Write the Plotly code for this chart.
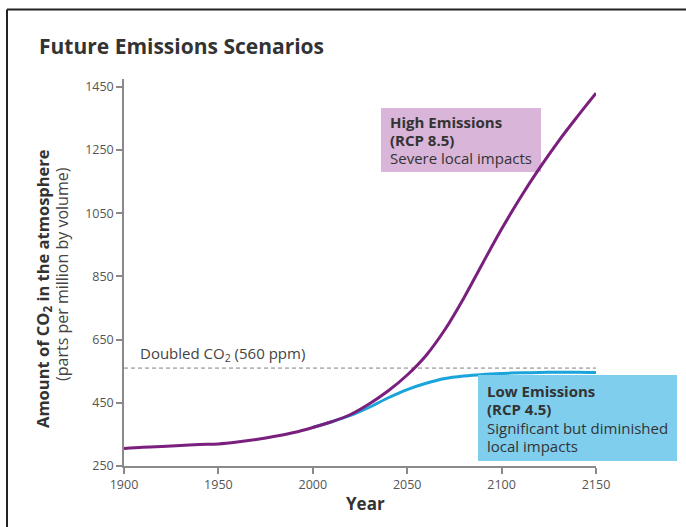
import plotly.graph_objects as go

# ---- data ----
years_high = [1900, 1910, 1920, 1930, 1940, 1950, 1960, 1970, 1980, 1990, 2000,
              2010, 2020, 2030, 2040, 2050, 2060, 2070, 2080, 2090, 2100,
              2110, 2120, 2130, 2140, 2150]
co2_high = [305, 309, 312, 315, 318, 320, 326, 334, 344, 356, 372,
            390, 413, 447, 488, 538, 600, 682, 782, 892, 1000,
            1100, 1192, 1277, 1355, 1430]

years_low = [2000, 2010, 2020, 2030, 2040, 2050, 2060, 2070, 2080, 2090, 2100,
             2110, 2120, 2130, 2140, 2150]
co2_low = [372, 390, 410, 436, 466, 492, 512, 527, 535, 540, 543,
           545, 546, 547, 547, 546]

doubled_years = [1900, 2150]
doubled_level = [560, 560]

x_ticks = [1900, 1950, 2000, 2050, 2100, 2150]
y_ticks = [250, 450, 650, 850, 1050, 1250, 1450]

high_lines = ["<b>High Emissions</b>", "<b>(RCP 8.5)</b>", "Severe local impacts"]
low_lines = ["<b>Low Emissions</b>", "<b>(RCP 4.5)</b>",
             "Significant but diminished", "local impacts"]

PURPLE = "#7a1f7e"
BLUE = "#1ba3dc"
FONT = "Open Sans"

fig = go.Figure()
fig.add_trace(go.Scatter(x=doubled_years, y=doubled_level, mode="lines",
                         line=dict(color="#808080", width=1, dash="4px,3px"),
                         hoverinfo="skip", showlegend=False))
fig.add_trace(go.Scatter(x=years_low, y=co2_low, mode="lines",
                         line=dict(color=BLUE, width=3, shape="spline", smoothing=0.8),
                         showlegend=False))
fig.add_trace(go.Scatter(x=years_high, y=co2_high, mode="lines",
                         line=dict(color=PURPLE, width=3, shape="spline", smoothing=1.0),
                         showlegend=False))

L, T, W, H = 124, 79, 472, 387


def px(x):
    return (x - L) / W


def py(y):
    return (T + H - y) / H


shapes = [
    # frame lines (top and left)
    dict(type="line", xref="paper", yref="paper", x0=px(7), x1=px(690),
         y0=py(9.5), y1=py(9.5), line=dict(color="#222222", width=2)),
    dict(type="line", xref="paper", yref="paper", x0=px(7), x1=px(7),
         y0=py(9.5), y1=py(530), line=dict(color="#222222", width=2)),
    # annotation boxes
    dict(type="rect", xref="paper", yref="paper", x0=px(381), x1=px(541),
         y0=py(172), y1=py(108), fillcolor="#d8b5d9", line=dict(width=0),
         layer="below"),
    dict(type="rect", xref="paper", yref="paper", x0=px(478), x1=px(677),
         y0=py(461), y1=py(375), fillcolor="#80ceed", line=dict(width=0),
         layer="above"),
]

annotations = [
    dict(text="<b>Future Emissions Scenarios</b>", xref="paper", yref="paper",
         x=px(37), y=py(46), xanchor="left", yanchor="middle", showarrow=False,
         font=dict(family=FONT, size=21, color="#333333")),
    dict(text="<b>Amount of CO<sub>2</sub> in the atmosphere</b>", xref="paper",
         yref="paper", x=px(43), y=py(289), xanchor="center", yanchor="middle",
         textangle=-90, showarrow=False,
         font=dict(family=FONT, size=16.5, color="#333333")),
    dict(text="(parts per million by volume)", xref="paper", yref="paper",
         x=px(62), y=py(274), xanchor="center", yanchor="middle",
         textangle=-90, showarrow=False,
         font=dict(family=FONT, size=16, color="#444444")),
    dict(text="<b>Year</b>", xref="paper", yref="paper", x=px(365), y=py(503),
         xanchor="center", yanchor="middle", showarrow=False,
         font=dict(family=FONT, size=17, color="#333333")),
    dict(text="Doubled CO<sub>2</sub> (560 ppm)", xref="paper", yref="paper",
         x=px(138), y=py(354), xanchor="left", yanchor="middle", showarrow=False,
         font=dict(family=FONT, size=15, color="#444444")),
]

for i, t in enumerate(high_lines):
    annotations.append(dict(text=t, xref="paper", yref="paper", x=px(388),
                            y=py(122 + 18 * i), xanchor="left", yanchor="middle",
                            showarrow=False,
                            font=dict(family=FONT, size=15, color="#333333")))
for i, t in enumerate(low_lines):
    annotations.append(dict(text=t, xref="paper", yref="paper", x=px(485),
                            y=py(391 + 18.3 * i), xanchor="left", yanchor="middle",
                            showarrow=False,
                            font=dict(family=FONT, size=15, color="#333333")))

fig.update_layout(
    width=686, height=527,
    margin=dict(l=L, r=686 - L - W, t=T, b=527 - T - H, pad=0),
    paper_bgcolor="white", plot_bgcolor="white",
    font=dict(family=FONT, size=12, color="#555555"),
    shapes=shapes, annotations=annotations,
    xaxis=dict(range=[1900, 2150], tickvals=x_ticks, showgrid=False,
               zeroline=False, showline=True, linecolor="#8a8a8a", linewidth=1.5,
               ticks="outside", ticklen=6, tickcolor="#8a8a8a", tickwidth=1.5,
               tickfont=dict(family=FONT, size=12.5, color="#555555")),
    yaxis=dict(range=[250, 1475], tickvals=y_ticks, showgrid=False,
               zeroline=False, showline=True, linecolor="#8a8a8a", linewidth=1.5,
               ticks="outside", ticklen=6, tickcolor="#8a8a8a", tickwidth=1.5,
               tickfont=dict(family=FONT, size=12.5, color="#555555")),
)

fig.write_html("out.html", config={"displayModeBar": False},
               post_script="document.body.style.margin='0';document.body.style.overflow='hidden';")
